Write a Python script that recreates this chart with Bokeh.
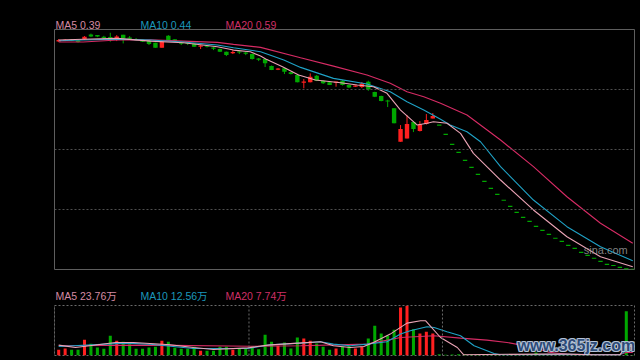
from bokeh.plotting import figure
from bokeh.models import Range1d, Span, Label
from bokeh.layouts import column
from bokeh.embed import file_html
from bokeh.resources import INLINE

# ---------------- data (prices in yuan, volume in 万) ----------------
head_open = [2.315, 2.323, 2.332, 2.323, 2.334, 2.375, 2.370, 2.353, 2.353, 2.332,
             2.373, 2.349, 2.336, 2.334, 2.328, 2.305, 2.262, 2.364, 2.334, 2.305,
             2.305, 2.299, 2.274, 2.278, 2.262, 2.251, 2.228, 2.217, 2.228, 2.219,
             2.208, 2.168, 2.165, 2.105, 2.077, 2.086, 2.052, 2.029, 1.964, 1.966,
             2.023, 1.980, 1.966, 1.966, 1.980, 1.943, 1.932, 1.926, 1.971, 1.883,
             1.849, 1.809, 1.744, 1.458, 1.486, 1.627, 1.550, 1.610, 1.658]
head_high = [2.336, 2.336, 2.336, 2.328, 2.362, 2.383, 2.370, 2.364, 2.390, 2.370,
             2.373, 2.362, 2.345, 2.336, 2.328, 2.305, 2.319, 2.370, 2.336, 2.313,
             2.311, 2.302, 2.285, 2.281, 2.270, 2.255, 2.229, 2.242, 2.236, 2.228,
             2.212, 2.174, 2.165, 2.110, 2.088, 2.088, 2.054, 2.029, 1.994, 2.043,
             2.029, 1.983, 1.969, 1.971, 1.986, 1.947, 1.940, 1.969, 1.980, 1.886,
             1.852, 1.817, 1.746, 1.601, 1.687, 1.635, 1.635, 1.695, 1.704]
head_low = [2.311, 2.319, 2.319, 2.306, 2.328, 2.353, 2.353, 2.336, 2.313, 2.319,
            2.299, 2.328, 2.323, 2.311, 2.285, 2.262, 2.262, 2.328, 2.311, 2.285,
            2.285, 2.268, 2.251, 2.264, 2.242, 2.225, 2.191, 2.208, 2.208, 2.199,
            2.161, 2.148, 2.097, 2.071, 2.071, 2.037, 2.033, 1.966, 1.915, 1.966,
            1.977, 1.952, 1.943, 1.929, 1.939, 1.917, 1.926, 1.917, 1.894, 1.840,
            1.804, 1.755, 1.616, 1.458, 1.486, 1.541, 1.546, 1.605, 1.657]
head_close = [2.328, 2.328, 2.323, 2.311, 2.356, 2.358, 2.358, 2.347, 2.342, 2.358,
              2.342, 2.340, 2.328, 2.313, 2.293, 2.262, 2.313, 2.328, 2.315, 2.299,
              2.299, 2.270, 2.278, 2.272, 2.257, 2.228, 2.199, 2.223, 2.223, 2.212,
              2.165, 2.163, 2.129, 2.071, 2.082, 2.057, 2.037, 1.966, 1.971, 2.014,
              1.980, 1.958, 1.943, 1.970, 1.943, 1.922, 1.936, 1.956, 1.905, 1.843,
              1.806, 1.804, 1.616, 1.567, 1.610, 1.567, 1.607, 1.644, 1.678]
# one-price limit-down days (open = high = low = close)
limit_price = [1.601, 1.522, 1.436, 1.368, 1.299, 1.240, 1.180, 1.120, 1.060, 1.009,
               0.958, 0.906, 0.855, 0.812, 0.778, 0.735, 0.701, 0.667, 0.633, 0.607,
               0.573, 0.547, 0.513, 0.487, 0.462, 0.436, 0.410, 0.400, 0.385, 0.372,
               0.368]

volume = [14.6, 17.9, 14.6, 14.6, 40.2, 30.0, 20.5, 17.2, 50.4, 37.6,
          35.1, 28.9, 17.2, 17.2, 20.5, 22.3, 37.6, 35.1, 19.7, 17.2,
          17.2, 22.3, 12.0, 12.0, 12.0, 22.3, 22.3, 14.6, 18.7, 17.2,
          23.8, 16.1, 53.0, 35.1, 24.8, 33.3, 17.9, 46.1, 43.5, 37.6,
          30.7, 22.3, 14.6, 17.9, 22.3, 24.8, 17.9, 22.3, 43.5, 76.0,
          56.3, 50.4, 65.8, 122.9, 127.2, 67.3, 56.3, 60.7, 56.3, 3.3,
          1.8, 2.6, 3.3, 2.8, 2.4, 2.9, 2.2, 2.6, 2.0, 2.3,
          2.5, 2.2, 2.6, 2.4, 7.7, 3.5, 2.1, 2.3, 1.9, 2.0,
          1.6, 1.3, 1.4, 1.2, 1.3, 1.5, 1.4, 1.9, 113.0, 1.0]

# moving-average lines (day index, value)
ma5_day = [0, 3.8, 9.1, 14.2, 19.35, 24.6, 27.1, 29.7, 31.3, 32.1, 34.7, 37.2, 39.8,
           43.7, 46.3, 48.8, 50.9, 53.0, 55.6, 57.1, 58.1, 60.2, 62.3, 64.3, 68.5,
           73.6, 78.8, 84.0, 89]
ma5_val = [2.328, 2.334, 2.342, 2.319, 2.305, 2.270, 2.242, 2.228, 2.191, 2.165, 2.099,
           2.029, 1.986, 1.963, 1.943, 1.929, 1.872, 1.729, 1.601, 1.616, 1.629, 1.616,
           1.530, 1.359, 1.131, 0.875, 0.646, 0.475, 0.39]
ma10_day = [0, 3.8, 9.1, 14.2, 19.35, 24.6, 27.1, 31.3, 34.9, 37.5, 42.6, 47.8, 51.4,
            54.0, 56.6, 59.2, 60.7, 63.3, 65.4, 68.5, 73.6, 78.8, 84.0, 89]
ma10_val = [2.322, 2.328, 2.336, 2.328, 2.311, 2.285, 2.262, 2.228, 2.157, 2.094, 2.000,
            1.952, 1.886, 1.800, 1.729, 1.650, 1.601, 1.544, 1.458, 1.245, 0.960, 0.732,
            0.561, 0.44]
ma20_day = [0, 3.8, 9.1, 14.2, 19.35, 24.6, 27.1, 31.3, 37.5, 42.6, 47.8, 51.4, 54.0,
            56.6, 59.2, 63.3, 68.5, 73.6, 78.8, 84.0, 89]
ma20_val = [2.311, 2.311, 2.328, 2.330, 2.319, 2.308, 2.291, 2.265, 2.176, 2.105, 2.029,
            1.958, 1.886, 1.843, 1.787, 1.687, 1.473, 1.245, 0.988, 0.761, 0.59]

vma5_day = [0, 2.6, 8.8, 11.6, 17.3, 20.9, 24, 29.3, 32.4, 36.5, 40.6, 42.6, 45.2, 47.3,
            48.8, 51.4, 54.0, 56.1, 56.9, 59.2, 61.8, 62.8, 66, 75, 79, 83, 87, 88, 89]
vma5_val = [26.6, 20.5, 33.3, 33.3, 27.4, 20.5, 15.5, 19.5, 26.5, 31.0, 35.1, 24.8, 20.5,
            23.0, 33.3, 54.8, 82.9, 88.8, 88.8, 46.1, 20.5, 1.8, 2.6, 3.6, 3.4, 1.6, 1.6,
            23.8, 23.76]
vma10_day = [0, 10.4, 14.2, 20.9, 29.3, 32.8, 37.5, 40.6, 42.6, 45.2, 47.8, 50.9, 53.0,
             54.5, 57.1, 58.2, 60.2, 62.3, 64.4, 67.5, 68.5, 78, 87, 88, 89]
vma10_val = [23.0, 31.7, 28.7, 17.9, 17.9, 27.4, 31.7, 35.1, 29.2, 24.8, 29.2, 35.1, 54.8,
             63.2, 73.5, 71.7, 60.7, 50.4, 24.8, 5.1, 1.8, 3.0, 1.7, 12.8, 12.56]
vma20_day = [0, 14.2, 29.8, 37.5, 47.8, 53.0, 58.2, 62.3, 66.4, 69.5, 73.7, 76.0, 78.8,
             84, 87, 88, 89]
vma20_val = [24.8, 26.6, 23.6, 24.8, 29.2, 46.1, 50.4, 44.5, 39.4, 33.3, 20.5, 8.5, 3.0,
             2.3, 2.3, 7.8, 7.74]

legend_main = ["MA5 0.39", "MA10 0.44", "MA20 0.59"]
legend_vol = ["MA5 23.76万", "MA10 12.56万", "MA20 7.74万"]
vol_marks = [29.5, 59.5]

# ---------------- styling ----------------
UP = "#ff1f1f"
DOWN = "#00a800"
C5, C10, C20 = "#eaa3b5", "#1fa2c6", "#d62b64"
T5, T10, T20 = "#d58aa3", "#1c98bc", "#cf2f66"
FONT = "'Liberation Sans', 'Noto Sans CJK SC', sans-serif"
BG = "#000000"
W = 640
LB, RB = 54, 6

opens = head_open + limit_price
highs = head_high + limit_price
lows = head_low + limit_price
closes = head_close + limit_price
n = len(closes)
days = list(range(n))

colors = []
for i in range(n):
    if closes[i] > opens[i]:
        colors.append(UP)
    elif closes[i] < opens[i]:
        colors.append(DOWN)
    else:
        prev = closes[i - 1] if i > 0 else closes[i]
        colors.append(UP if closes[i] >= prev else DOWN)

Y0, Y1 = 0.366, 2.418
ppx = (Y1 - Y0) / 240.0
btop, bbot = [], []
for o, c in zip(opens, closes):
    t, b = max(o, c), min(o, c)
    if t - b < 1.2 * ppx:
        m = (t + b) / 2
        t, b = m + 0.6 * ppx, m - 0.6 * ppx
    btop.append(t)
    bbot.append(b)

xr = Range1d(-0.65, 89.27)
leg_x = [-0.5, 12.68, 25.86]


def legend_strip(height, texts, ycenter):
    f = figure(width=W, height=height, x_range=xr, y_range=Range1d(0, height),
               output_backend="svg", toolbar_location=None,
               x_axis_location=None, y_axis_location=None,
               min_border_left=LB, min_border_right=RB, min_border_top=0, min_border_bottom=0,
               background_fill_color=BG, border_fill_color=BG, outline_line_color=None)
    f.grid.visible = False
    for txt, lx, col in zip(texts, leg_x, (T5, T10, T20)):
        f.add_layout(Label(x=lx, y=ycenter, text=txt, text_color=col, text_font=FONT,
                           text_font_size="10.5px", text_baseline="middle"))
    return f


# ---------------- legend strip above price panel ----------------
l1 = legend_strip(29, legend_main, 5)

# ---------------- main price panel ----------------
p = figure(width=W, height=251, x_range=xr, y_range=Range1d(Y0, Y1),
           output_backend="svg", toolbar_location=None,
           x_axis_location=None, y_axis_location=None,
           min_border_left=LB, min_border_right=RB, min_border_top=0, min_border_bottom=11,
           background_fill_color=BG, border_fill_color=BG,
           outline_line_color="#5e5e5e", outline_line_width=1)
p.grid.visible = False
for k in (1, 2, 3):
    p.add_layout(Span(location=Y0 + (Y1 - Y0) * k / 4, dimension="width",
                      line_color="#4e4e4e", line_dash="2 2", line_width=1))

p.segment(x0=days, y0=lows, x1=days, y1=highs, color=colors, line_width=1)
p.vbar(x=days, top=btop, bottom=bbot, width=0.68, fill_color=colors, line_color=None)

p.line(ma20_day, ma20_val, line_color=C20, line_width=1.1)
p.line(ma10_day, ma10_val, line_color=C10, line_width=1.1)
p.line(ma5_day, ma5_val, line_color=C5, line_width=1.1)

p.add_layout(Label(x=81.4, y=0.537, text="sina.com", text_color="#9a9a9a", text_alpha=0.85,
                   text_font=FONT, text_font_size="11px", text_baseline="middle"))

# ---------------- legend strip above volume panel ----------------
l2 = legend_strip(25, legend_vol, 10)

# ---------------- volume panel ----------------
V1 = 128.0
q = figure(width=W, height=55, x_range=xr, y_range=Range1d(0, V1),
           output_backend="svg", toolbar_location=None,
           x_axis_location=None, y_axis_location=None,
           min_border_left=LB, min_border_right=RB, min_border_top=0, min_border_bottom=5,
           background_fill_color=BG, border_fill_color=BG,
           outline_line_color="#6a6a6a", outline_line_dash="2 2", outline_line_width=1)
q.grid.visible = False
q.add_layout(Span(location=xr.start, dimension="height", line_color="#5e5e5e", line_width=1))
for m in vol_marks:
    q.add_layout(Span(location=m, dimension="height", line_color="#6a6a6a",
                      line_dash="2 2", line_width=1))

q.vbar(x=days, top=volume, bottom=0, width=0.47, fill_color=colors, line_color=None)
q.line(vma20_day, vma20_val, line_color=C20, line_width=1.1)
q.line(vma10_day, vma10_val, line_color=C10, line_width=1.1)
q.line(vma5_day, vma5_val, line_color=C5, line_width=1.1)

wm_x, wm_y = 71.13, 25.6
for dx, dy in [(-1, -1), (-1, 0), (-1, 1), (0, -1), (0, 1), (1, -1), (1, 0), (1, 1)]:
    q.add_layout(Label(x=wm_x, y=wm_y, x_offset=dx, y_offset=dy, text="www.365jz.com",
                       text_color="#b9c7dc", text_alpha=0.8, text_font=FONT,
                       text_font_size="16px", text_font_style="bold", text_baseline="middle"))
q.add_layout(Label(x=wm_x, y=wm_y, text="www.365jz.com", text_color="#2d4b78",
                   text_font=FONT, text_font_size="16px", text_font_style="bold",
                   text_baseline="middle"))

layout = column(l1, p, l2, q, spacing=0)
html = file_html(layout, INLINE)
html = html.replace("</head>", "<style>html,body{background:#000000;}</style></head>", 1)
open("out.html", "w").write(html)
